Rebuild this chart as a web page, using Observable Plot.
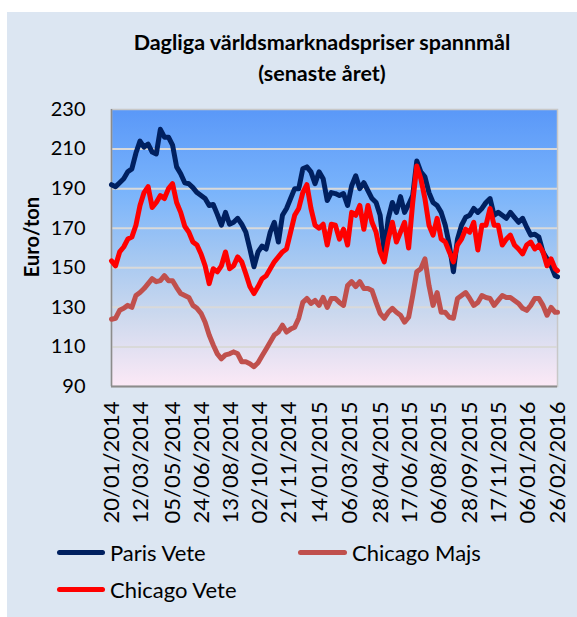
<!DOCTYPE html>
<html>
<head>
<meta charset="utf-8">
<script src="https://cdn.jsdelivr.net/npm/d3@7"></script>
<script src="https://cdn.jsdelivr.net/npm/@observablehq/plot@0.6"></script>
<style>
  html, body { margin: 0; padding: 0; background: #ffffff; }
  #page { position: relative; width: 577px; height: 617px; overflow: hidden; }
  #box { position: absolute; left: 7px; top: 12px; width: 570px; height: 605px; background: #dce6f2; }
  #chart { position: absolute; left: 0; top: 0; }
  .title { position: absolute; left: 102px; width: 440px; text-align: center; font-family: Lato, sans-serif; font-weight: bold; font-size: 21.5px; color: #000; line-height: 1; white-space: nowrap; }
  .ylab { position: absolute; left: 31px; top: 237px; transform: translate(-50%, -50%) rotate(-90deg); font-family: Lato, sans-serif; font-weight: bold; font-size: 20px; white-space: nowrap; color: #000; }
  .leg { position: absolute; font-family: Lato, sans-serif; font-size: 22px; color: #000; white-space: nowrap; line-height: 1; }
  .sw { position: absolute; height: 5px; border-radius: 2.5px; }
</style>
</head>
<body>
<div id="page">
  <div id="box"></div>
  <div id="chart"></div>
  <div class="title" style="top:32px">Dagliga världsmarknadspriser spannmål</div>
  <div class="title" style="top:63px">(senaste året)</div>
  <div class="ylab">Euro/ton</div>
  <div class="sw" style="left:57px;width:48px;top:550px;background:#002060"></div>
  <div class="leg" style="left:110px;top:542px">Paris Vete</div>
  <div class="sw" style="left:298px;width:49px;top:550px;background:#c0504d"></div>
  <div class="leg" style="left:352px;top:542px">Chicago Majs</div>
  <div class="sw" style="left:57px;width:48px;top:587px;background:#ff0000"></div>
  <div class="leg" style="left:110px;top:579px">Chicago Vete</div>
</div>
<script>
// Weekly samples from 20/01/2014, last value on 26/02/2016
const startDate = "2014-01-20";
const endDate = "2016-02-26";
const tickLabels = ["20/01/2014","12/03/2014","05/05/2014","24/06/2014","13/08/2014","02/10/2014","21/11/2014","14/01/2015","06/03/2015","28/04/2015","17/06/2015","06/08/2015","28/09/2015","17/11/2015","06/01/2016","26/02/2016"];
const yTicks = [90,110,130,150,170,190,210,230];

const parisVete = [192,191,193,195,198.5,200,208,214,211,212.5,208.5,207.5,220,216,216,212,201,197.5,193,192.5,
  190.5,188,186.5,185,181.5,182,177,171.5,178,172,173,175,172,168,159.5,150.5,158,161,159.5,168,
  173,163,176.5,180,185,190,190,200,201,198.5,192.5,198.5,195,184,188,187.5,186.5,187.5,181.5,191.5,
  196.5,190,193,189,185,183,176.5,158,175,183,178,186,178,182,186.5,204,198.5,196,188,183,
  181.5,178,171.5,161.5,148,164.5,171.5,175.5,176.5,180,178,180,183,185,176.5,178,176.5,175,178,175.5,
  173,175,170.5,166.5,167,165.5,158,154.5,151,146,145.5];
const chicagoMajs = [124,124.5,128.5,129.5,131,130,136,137.5,139.5,142,144.5,143,143.5,146,143.5,143.5,140,137,136,135,
  131,129.5,127,122.5,116,111,106.5,104,106,106.5,107.5,106.5,102.5,102.5,101.5,100,102,105.5,109,112.5,
  116,117.5,121,117.5,119,120,124.5,132.5,134.5,132,133.5,131,135,130,134.5,134.5,132.5,131,141,143,
  140.5,143,139.5,139.5,138.5,132.5,127,124.5,127.5,129.5,127.5,126,122.5,125,136,148,149.5,154.5,141,131,
  137.5,127.5,127.5,125,124.5,134.5,136,137.5,134.5,131,132.5,136,135,134.5,131,133.5,136,135,135,133.5,
  132,129.5,128.5,131,134.5,134.5,131,126,130,127.5,127.5];
const chicagoVete = [153.5,151,158,160.5,164.5,165.5,171.5,181.5,188,191,180.5,183,186.5,185,190,192.5,183,178,171,168,
  163,161.5,157,151,142,149.5,148,151,158,149.5,151,155.5,153,147,140.5,137,140.5,144.5,146,149.5,
  153,155.5,158,159.5,168,176.5,180,188,192,180,171.5,170,172,161.5,172,171.5,164.5,169.5,161.5,178,
  176.5,181.5,169.5,181.5,173,168,158,153,164.5,173,163,168,173,160,183,201.5,195,185,171.5,166.5,
  175,164.5,163,158,153,161.5,164.5,169.5,168,173,159,171.5,171.5,180,171.5,171.5,161.5,164.5,166.5,161.5,
  159.5,157,161.5,163,159.5,161.5,158,151,154.5,149.5,148.5];

const seriesNames = ["Paris Vete", "Chicago Majs", "Chicago Vete"];
const seriesColors = ["#002060", "#c0504d", "#ff0000"];
const seriesValues = [parisVete, chicagoMajs, chicagoVete];

const parseDMY = d3.utcParse("%d/%m/%Y");
const t0 = d3.utcParse("%Y-%m-%d")(startDate);
const t1 = d3.utcParse("%Y-%m-%d")(endDate);
const dateAt = (i, n) => i === n - 1 ? t1 : d3.utcDay.offset(t0, 7 * i);

const rows = [];
seriesValues.forEach((vals, s) => {
  vals.forEach((v, i) => rows.push({series: seriesNames[s], date: dateAt(i, vals.length), value: v}));
});

const W = 577, H = 540;
const plot = Plot.plot({
  width: W,
  height: H,
  marginLeft: 111,
  marginRight: 20,
  marginTop: 109,
  marginBottom: H - 386,
  style: {fontFamily: "Lato, sans-serif", color: "#000", background: "transparent", overflow: "visible"},
  x: {type: "utc", domain: [t0, t1]},
  y: {domain: [90, 230]},
  marks: [
    () => {
      const ns = "http://www.w3.org/2000/svg";
      const defs = document.createElementNS(ns, "defs");
      defs.innerHTML = `<linearGradient id="bgGrad" x1="0" y1="0" x2="0" y2="1">
        <stop offset="0" stop-color="#5a98f8"/>
        <stop offset="0.3" stop-color="#7ab4fb"/>
        <stop offset="0.55" stop-color="#a8c9f1"/>
        <stop offset="0.75" stop-color="#cdd9ee"/>
        <stop offset="1" stop-color="#fce9f6"/>
      </linearGradient>`;
      return defs;
    },
    Plot.frame({fill: "#8ab", stroke: "#c8c8c8", strokeWidth: 1.5, className: "bgframe"}),
    Plot.gridY([110,130,150,170,190,210], {stroke: "#d9d9d9", strokeOpacity: 1, strokeWidth: 2}),
    Plot.ruleX([t0], {stroke: "#8c8c8c", strokeWidth: 1.5}),
    Plot.ruleY([90], {stroke: "#8c8c8c", strokeWidth: 2}),
    Plot.axisY({ticks: yTicks, tickSize: 0, tickPadding: 26, fontSize: 20, label: null}),
    Plot.axisX({ticks: tickLabels.map(parseDMY), tickFormat: d3.utcFormat("%d/%m/%Y"), tickRotate: -90, tickSize: 0, tickPadding: 15, fontSize: 22, label: null}),
    ...seriesNames.map((name, s) => Plot.line(rows.filter(r => r.series === name), {
      x: "date", y: "value", stroke: seriesColors[s], strokeWidth: 5, strokeLinejoin: "round", strokeLinecap: "round"
    }))
  ]
});
plot.querySelectorAll(".bgframe rect, rect.bgframe, g.bgframe").forEach(el => el.setAttribute("fill", "url(#bgGrad)"));
document.getElementById("chart").appendChild(plot);
</script>
</body>
</html>
